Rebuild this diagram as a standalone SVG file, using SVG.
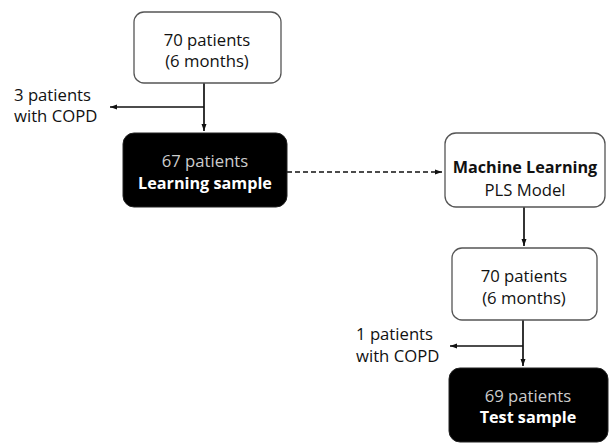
<svg xmlns="http://www.w3.org/2000/svg" width="609" height="443" viewBox="0 0 609 443">
<style>
.w{fill:#fff;stroke:#555;stroke-width:1.3}
.b{fill:#000;stroke:#222;stroke-width:1}
text{font-family:"Open Sans","Liberation Sans",sans-serif;font-size:16.7px;text-anchor:middle;fill:#111}
.bd{font-weight:bold;font-size:16.2px}
.lt{fill:#ccc}
.wh{fill:#fff}
.l{text-anchor:start}
.c{stroke:#111;stroke-width:1.7;fill:none}
</style>
<defs>
<marker id="ah" markerWidth="8" markerHeight="8" refX="7" refY="4" orient="auto" markerUnits="userSpaceOnUse">
<path d="M0,1.5 L7,4 L0,6.5 Z" fill="#111"/>
</marker>
</defs>
<rect width="609" height="443" fill="#fff"/>
<g id="connectors">
<path class="c" d="M204,83 V131" marker-end="url(#ah)"/>
<path class="c" d="M204,107 H110" marker-end="url(#ah)"/>
<path class="c" d="M287,172 H442" stroke-dasharray="5,3" marker-end="url(#ah)"/>
<path class="c" d="M524,207 V246" marker-end="url(#ah)"/>
<path class="c" d="M523,320 V366" marker-end="url(#ah)"/>
<path class="c" d="M523,346 H450" marker-end="url(#ah)"/>
</g>
<g id="n1">
<rect class="w" x="134" y="12" width="147" height="71" rx="10"/>
<text x="207" y="46">70 patients</text>
<text x="207" y="67">(6 months)</text>
</g>
<g id="excl1">
<text class="l" x="14" y="101">3 patients</text>
<text class="l" x="14" y="122">with COPD</text>
</g>
<g id="n2">
<rect class="b" x="123" y="133" width="164" height="74" rx="11"/>
<text class="lt" x="205" y="167">67 patients</text>
<text class="wh bd" x="205" y="189">Learning sample</text>
</g>
<g id="n3">
<rect class="w" x="445" y="133" width="160" height="74" rx="11"/>
<text class="bd" x="525" y="173">Machine Learning</text>
<text x="525" y="196">PLS Model</text>
</g>
<g id="n4">
<rect class="w" x="452" y="248" width="145" height="72" rx="10"/>
<text x="524" y="282">70 patients</text>
<text x="524" y="304">(6 months)</text>
</g>
<g id="excl2">
<text class="l" x="356" y="340">1 patients</text>
<text class="l" x="356" y="362">with COPD</text>
</g>
<g id="n5">
<rect class="b" x="449" y="368" width="159" height="74" rx="11"/>
<text class="lt" x="528" y="402">69 patients</text>
<text class="wh bd" x="528" y="423">Test sample</text>
</g>
</svg>
